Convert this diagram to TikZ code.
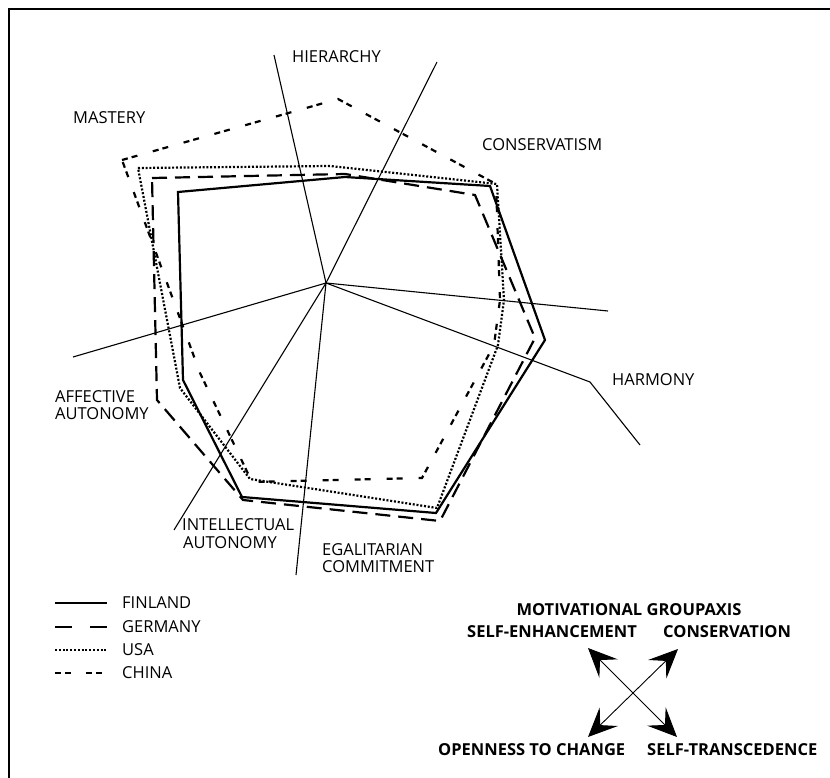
\documentclass[tikz,border=0pt]{standalone}
\usepackage{fontspec}
\setmainfont{Open Sans}
\usetikzlibrary{arrows.meta}
\begin{document}
\begin{tikzpicture}[x=1pt,y=-1pt,
  axisline/.style={line width=1.1pt},
  finland/.style={line width=2.2pt, line join=miter},
  germany/.style={line width=2.2pt, dash pattern=on 15pt off 8pt},
  usa/.style={line width=2.2pt, dash pattern=on 2pt off 1.8pt},
  china/.style={line width=2.2pt, dash pattern=on 6pt off 4pt on 6pt off 16pt},
  lab/.style={font=\fontsize{16.5}{19}\selectfont, align=left, inner sep=0pt, anchor=west},
  mot/.style={font=\bfseries\fontsize{16.5}{19}\selectfont, inner sep=0pt},
  motarrow/.style={line width=0.9pt, {Stealth[length=29pt,width=26pt,inset=12pt]}-{Stealth[length=29pt,width=26pt,inset=12pt]}}
]
\useasboundingbox (0,0) rectangle (830,778);
\clip (0,0) rectangle (830,778);
\fill[white] (0,0) rectangle (830,778);
\draw[line width=2pt] (9,9) rectangle (860,800);

% axes radiating from the centre
\coordinate (C)  at (326,283);
\coordinate (a1) at (274,55);
\coordinate (a2) at (437,62);
\coordinate (a3) at (608,311);
\coordinate (a4) at (590,382);
\coordinate (a4e) at (640,445);
\coordinate (a5) at (296,575);
\coordinate (a6) at (174,530);
\coordinate (a7) at (73,357);
\draw[axisline] (C) -- (a1);
\draw[axisline] (C) -- (a2);
\draw[axisline] (C) -- (a3);
\draw[axisline] (C) -- (a4) -- (a4e);
\draw[axisline] (C) -- (a5);
\draw[axisline] (C) -- (a6);
\draw[axisline] (C) -- (a7);

% country profiles
\draw[finland] (178,192) -- (345,177) -- (490,186) -- (545,340) -- (436,513) -- (242,497) -- (183,380) -- cycle;
\draw[germany] (152,178) -- (345,174) -- (475,195) -- (535,338) -- (440,521) -- (243,500) -- (157,400) -- cycle;
\draw[usa] (138,168) -- (330,166) -- (497,184) -- (504,300) -- (498,345) -- (437,508) -- (250,479) -- (180,388) -- cycle;
\draw[china] (122,160) -- (338,99) -- (496,184) -- (500,300) -- (494,345) -- (422,478) -- (252,482) -- (200,373) -- cycle;

% value labels
\node[lab] (hier) at (292,57) {HIERARCHY};
\node[lab] (mast) at (73,118) {MASTERY};
\node[lab] (cons) at (482,145) {CONSERVATISM};
\node[lab] (harm) at (612,380) {HARMONY};
\node[lab] (affa) at (55,397) {AFFECTIVE};
\node[lab] (affb) at (55,414) {AUTONOMY};
\node[lab] (inta) at (182,525) {INTELLECTUAL};
\node[lab] (intb) at (183,543) {AUTONOMY};
\node[lab] (egaa) at (322,550) {EGALITARIAN};
\node[lab] (egab) at (322,567) {COMMITMENT};

% legend
\coordinate (l1a) at (55,603); \coordinate (l1b) at (107,603);
\coordinate (l2a) at (55,627); \coordinate (l2b) at (107,627);
\coordinate (l3a) at (55,650); \coordinate (l3b) at (107,650);
\coordinate (l4a) at (55,673); \coordinate (l4b) at (107,673);
\draw[finland] (l1a) -- (l1b);
\draw[line width=2.2pt, dash pattern=on 17pt off 18pt] (l2a) -- (l2b);
\draw[usa] (l3a) -- (l3b);
\draw[line width=2.2pt, dash pattern=on 6pt off 4pt on 6pt off 15pt] (l4a) -- (l4b);
\node[lab] (fin) at (122,603) {FINLAND};
\node[lab] (ger) at (122,627) {GERMANY};
\node[lab] (usl) at (122,650) {USA};
\node[lab] (chn) at (122,673) {CHINA};

% motivational axes
\node[mot] (title) at (629,610) {MOTIVATIONAL GROUPAXIS};
\node[mot, anchor=west] (senh) at (467,632) {SELF-ENHANCEMENT};
\node[mot, anchor=west] (cnsv) at (663,632) {CONSERVATION};
\node[mot, anchor=west] (open) at (438,750) {OPENNESS TO CHANGE};
\node[mot, anchor=west] (strn) at (647,750) {SELF-TRANSCEDENCE};
\coordinate (ul) at (588,648);
\coordinate (ur) at (678,649);
\coordinate (ll) at (588,737);
\coordinate (lr) at (677,737);
\draw[motarrow] (ul) -- (lr);
\draw[motarrow] (ur) -- (ll);
\end{tikzpicture}
\end{document}
